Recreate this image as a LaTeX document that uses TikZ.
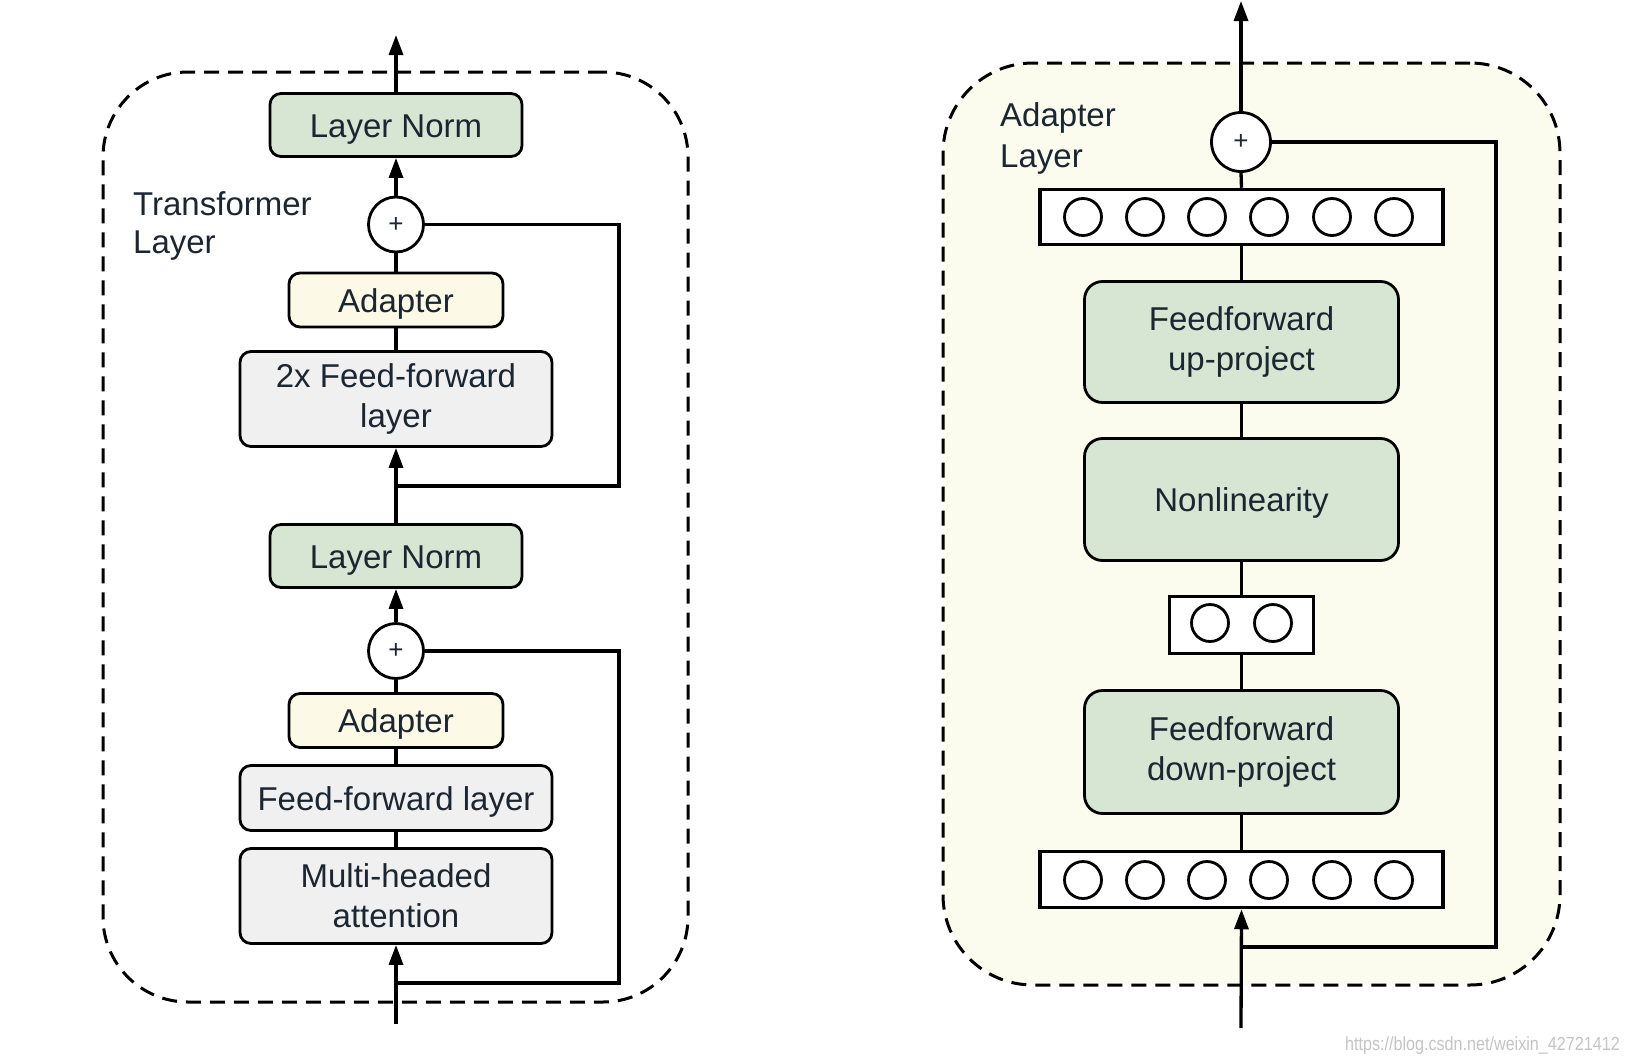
\documentclass[tikz,border=0pt]{standalone}
\usepackage{fontspec}
\setmainfont{Liberation Sans}
\usetikzlibrary{arrows.meta}
\definecolor{txt}{HTML}{1B2633}
\definecolor{gfill}{HTML}{D6E6D2}
\definecolor{afill}{HTML}{FCFAE6}
\definecolor{ffill}{HTML}{F0F0F0}
\definecolor{bgfill}{HTML}{FBFBEE}
\definecolor{wmcol}{HTML}{C4C4C4}
\begin{document}
\begin{tikzpicture}[x=1pt,y=-1pt,
  blk/.style={draw=black, line width=2.8pt, rounded corners=11pt, inner sep=0pt, align=center, text=txt,
    font=\fontsize{33}{40}\selectfont, execute at begin node={\rule{0pt}{0.95em}}},
  lnbox/.style={blk, fill=gfill, minimum width=252pt, minimum height=63pt},
  adbox/.style={blk, fill=afill, minimum width=214pt, minimum height=54pt},
  ffbox/.style={blk, fill=ffill, minimum width=312pt},
  gbox/.style={blk, fill=gfill, rounded corners=18pt, minimum width=314pt},
  vecbox/.style={draw=black, line width=3.5pt, fill=white, inner sep=0pt},
  neuron/.style={circle, draw=black, line width=2.8pt, fill=white, inner sep=0pt, minimum size=37pt},
  plusnode/.style={circle, draw=black, line width=2.8pt, fill=white, inner sep=0pt, text=txt,
    font=\fontsize{26}{26}\selectfont},
  frame/.style={draw=black, line width=3pt, dash pattern=on 15pt off 9pt, inner sep=0pt},
  conn/.style={draw=black, line width=3.3pt},
  arr/.style={conn, -{Triangle[length=20pt,width=14pt]}},
  lbl/.style={anchor=base west, inner sep=0pt, text=txt, font=\fontsize{33}{38}\selectfont}
]
\useasboundingbox (0,0) rectangle (1628,1063);

% ---------- left: transformer layer ----------
\node[frame, rounded corners=85pt, minimum width=585pt, minimum height=930pt] (frameL) at (395.5,537) {};

\node[lnbox] (ln1) at (396,125) {Layer Norm};
\node[plusnode, minimum size=55pt] (p1) at (396,224.5) {+};
\node[adbox] (ad1) at (396,300) {Adapter};
\node[ffbox, minimum height=95pt] (ff2) at (396,399) {2x Feed-forward\\layer};
\node[lnbox] (ln2) at (396,556) {Layer Norm};
\node[plusnode, minimum size=55pt] (p2) at (396,651) {+};
\node[adbox] (ad2) at (396,720.5) {Adapter};
\node[ffbox, minimum height=65pt] (ff1) at (396,798) {Feed-forward layer};
\node[ffbox, minimum height=95pt] (mha) at (396,896) {Multi-headed\\attention};

\node[lbl] (tl1) at (133,215) {Transformer};
\node[lbl] (tl2) at (133,253) {Layer};

\coordinate (outL) at (396,35);
\coordinate (inL) at (396,1024);
\coordinate (jL1) at (396,486);
\coordinate (jL2) at (396,983);
\coordinate (rL1) at (619,400);
\coordinate (rL2) at (619,800);

\draw[arr] (ln1.north) -- (outL);
\draw[arr] (p1.north) -- (ln1.south);
\draw[conn] (ad1.north) -- (p1.south);
\draw[conn] (ff2.north) -- (ad1.south);
\draw[arr] (ln2.north) -- (ff2.south);
\draw[conn] (jL1) -| (rL1) |- (p1.east);
\draw[arr] (p2.north) -- (ln2.south);
\draw[conn] (ad2.north) -- (p2.south);
\draw[conn] (ff1.north) -- (ad2.south);
\draw[conn] (mha.north) -- (ff1.south);
\draw[arr] (inL) -- (mha.south);
\draw[conn] (jL2) -| (rL2) |- (p2.east);

% ---------- right: adapter layer ----------
\node[frame, fill=bgfill, rounded corners=90pt, minimum width=617pt, minimum height=922pt] (frameR) at (1251.5,524) {};

\node[plusnode, minimum size=59pt] (p3) at (1241,142) {+};
\node[vecbox, minimum width=403pt, minimum height=55pt] (nb1) at (1241.5,217) {};
\node[gbox, minimum height=121pt] (ffu) at (1241.5,342) {Feedforward\\up-project};
\node[gbox, minimum height=122pt] (nl) at (1241.5,499.5) {Nonlinearity};
\node[vecbox, minimum width=144pt, minimum height=57pt] (sb) at (1241.5,625) {};
\node[gbox, minimum height=123pt] (ffd) at (1241.5,752) {Feedforward\\down-project};
\node[vecbox, minimum width=403pt, minimum height=56pt] (nb2) at (1241.5,879.5) {};

\foreach \i/\x in {1/1083,2/1145,3/1207,4/1269,5/1332,6/1394}{
  \node[neuron] (ta\i) at (\x,217) {};
  \node[neuron] (ba\i) at (\x,880) {};
}
\node[neuron] (sa1) at (1210,623) {};
\node[neuron] (sa2) at (1273,623) {};

\node[lbl] (al1) at (1000,126) {Adapter};
\node[lbl] (al2) at (1000,167) {Layer};

\coordinate (outR) at (1241,1);
\coordinate (inR) at (1241,1028);
\coordinate (jR) at (1241,947);
\coordinate (rR) at (1496,500);

\draw[arr] (p3.north) -- (outR);
\draw[conn] (nb1.north) -- (p3.south);
\draw[conn] (ffu.north) -- (nb1.south);
\draw[conn] (nl.north) -- (ffu.south);
\draw[conn] (sb.north) -- (nl.south);
\draw[conn] (ffd.north) -- (sb.south);
\draw[conn] (nb2.north) -- (ffd.south);
\draw[arr] (inR) -- (nb2.south);
\draw[conn] (jR) -| (rR) |- (p3.east);

% watermark
\node[anchor=base east, inner sep=0pt, text=wmcol, font=\fontsize{19}{19}\selectfont] (wmk) at (1620,1050)
  {\scalebox{0.85}[1]{https://blog.csdn.net/weixin\_42721412}};
\end{tikzpicture}
\end{document}
